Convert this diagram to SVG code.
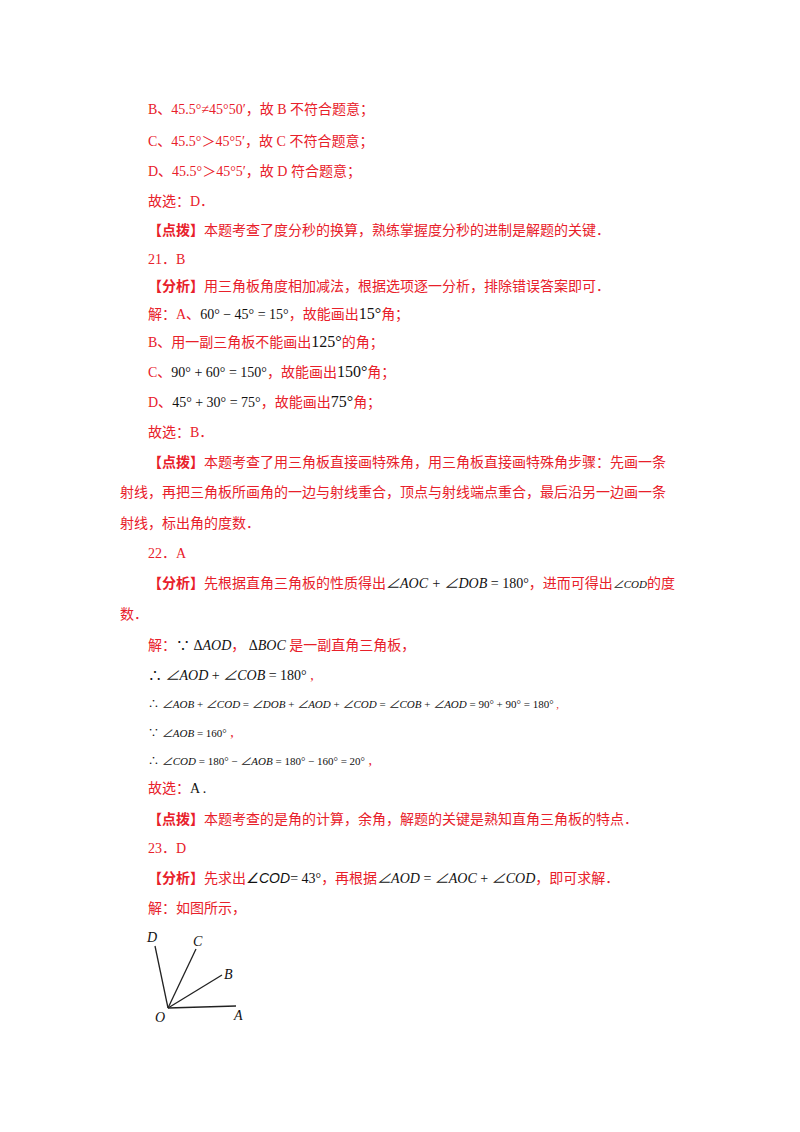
<svg xmlns="http://www.w3.org/2000/svg" width="800" height="1132" viewBox="0 0 800 1132">
<style>
text{font-family:"Liberation Serif","Noto Sans CJK SC",serif;font-size:14px;fill:#e8202a}
.m{fill:#111;font-style:italic}
.n{fill:#111}
.s{font-size:11px}
.b{font-weight:bold}
</style>
<rect width="800" height="1132" fill="#fff"/>
<text x="148" y="114">B、45.5°≠45°50′，故 B 不符合题意；</text>
<text x="148" y="146">C、45.5°＞45°5′，故 C 不符合题意；</text>
<text x="148" y="176">D、45.5°＞45°5′，故 D 符合题意；</text>
<text x="148" y="206">故选：D．</text>
<text x="148" y="235"><tspan class="b">【点拨】</tspan>本题考查了度分秒的换算，熟练掌握度分秒的进制是解题的关键．</text>
<text x="148" y="264">21．B</text>
<text x="148" y="291"><tspan class="b">【分析】</tspan>用三角板角度相加减法，根据选项逐一分析，排除错误答案即可．</text>
<text x="148" y="319">解：A、<tspan class="n">60° − 45° = 15°</tspan>，故能画出<tspan class="n" font-size="16">15°</tspan>角；</text>
<text x="148" y="347">B、用一副三角板不能画出<tspan class="n" font-size="16">125°</tspan>的角；</text>
<text x="148" y="377">C、<tspan class="n">90° + 60° = 150°</tspan>，故能画出<tspan class="n" font-size="16">150°</tspan>角；</text>
<text x="148" y="407">D、<tspan class="n">45° + 30° = 75°</tspan>，故能画出<tspan class="n" font-size="16">75°</tspan>角；</text>
<text x="148" y="437">故选：B．</text>
<text x="148" y="467"><tspan class="b">【点拨】</tspan>本题考查了用三角板直接画特殊角，用三角板直接画特殊角步骤：先画一条</text>
<text x="120" y="497">射线，再把三角板所画角的一边与射线重合，顶点与射线端点重合，最后沿另一边画一条</text>
<text x="120" y="528">射线，标出角的度数．</text>
<text x="148" y="558">22．A</text>
<text x="148" y="588"><tspan class="b">【分析】</tspan>先根据直角三角板的性质得出<tspan class="m">∠AOC + ∠DOB</tspan><tspan class="n"> = 180°</tspan>，进而可得出<tspan class="m s">∠COD</tspan>的度</text>
<text x="120" y="619">数．</text>
<text x="148" y="650">解：<tspan class="n">∵ Δ</tspan><tspan class="m">AOD</tspan>，<tspan class="n"> Δ</tspan><tspan class="m">BOC</tspan> 是一副直角三角板，</text>
<text x="148" y="680" class="n">∴ <tspan class="m">∠AOD</tspan> + <tspan class="m">∠COB</tspan> = 180°<tspan fill="#e8202a"> ,</tspan></text>
<text x="148" y="708" class="n s">∴ <tspan class="m">∠AOB</tspan> + <tspan class="m">∠COD</tspan> = <tspan class="m">∠DOB</tspan> + <tspan class="m">∠AOD</tspan> + <tspan class="m">∠COD</tspan> = <tspan class="m">∠COB</tspan> + <tspan class="m">∠AOD</tspan> = 90° + 90° = 180°<tspan fill="#e8202a"> ,</tspan></text>
<text x="148" y="737" class="n s">∵ <tspan class="m">∠AOB</tspan> = 160°<tspan fill="#e8202a" font-size="14"> ,</tspan></text>
<text x="148" y="765" class="n s">∴ <tspan class="m">∠COD</tspan> = 180° − <tspan class="m">∠AOB</tspan> = 180° − 160° = 20°<tspan fill="#e8202a" font-size="14"> ,</tspan></text>
<text x="148" y="793">故选：<tspan class="n">A .</tspan></text>
<text x="148" y="824"><tspan class="b">【点拨】</tspan>本题考查的是角的计算，余角，解题的关键是熟知直角三角板的特点．</text>
<text x="148" y="853">23．D</text>
<text x="148" y="883"><tspan class="b">【分析】</tspan>先求出<tspan class="n" font-family="Liberation Sans" font-style="italic">∠COD</tspan><tspan class="n">= 43°</tspan>，再根据<tspan class="m">∠AOD</tspan><tspan class="n"> = </tspan><tspan class="m">∠AOC</tspan><tspan class="n"> + </tspan><tspan class="m">∠COD</tspan>，即可求解．</text>
<text x="148" y="913">解：如图所示，</text>
<g id="figure" stroke="#222" stroke-width="1.3" fill="none">
<line x1="168" y1="1008" x2="155" y2="946"/>
<line x1="168" y1="1008" x2="196" y2="949"/>
<line x1="168" y1="1008" x2="222" y2="975"/>
<line x1="168" y1="1008" x2="236" y2="1006"/>
</g>
<g class="m">
<text x="147" y="942" class="m">D</text>
<text x="193" y="946" class="m">C</text>
<text x="224" y="979" class="m">B</text>
<text x="234" y="1020" class="m">A</text>
<text x="155" y="1022" class="m">O</text>
</g>
</svg>
